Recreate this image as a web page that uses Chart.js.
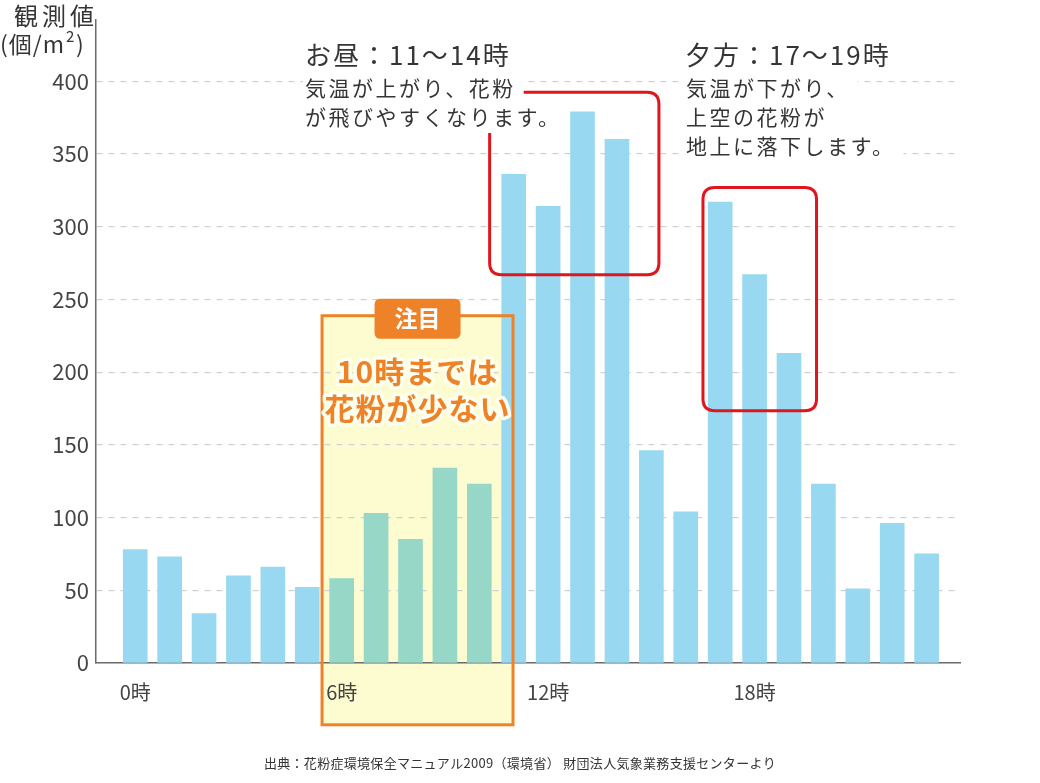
<!DOCTYPE html>
<html>
<head>
<meta charset="utf-8">
<script src="https://cdn.jsdelivr.net/npm/chart.js@4.4.0/dist/chart.umd.min.js"></script>
<style>
html,body{margin:0;padding:0;background:#fff;}
#wrap{width:1040px;height:783px;position:relative;}
</style>
</head>
<body>
<div id="wrap"><canvas id="grafica" width="1040" height="783"></canvas></div>
<script>
// datos
const hours=[0,1,2,3,4,5,6,7,8,9,10,11,12,13,14,15,16,17,18,19,20,21,22,23];
const pollen=[78,73,34,60,66,52,58,103,85,134,123,336,314,379,360,146,104,317,267,213,123,51,96,75];
const xTickHours=[0,6,12,18];
const yTickValues=[0,50,100,150,200,250,300,350,400];
const focusHours=[6,7,8,9,10];

const FONT='"Noto Sans CJK JP","Noto Sans",sans-serif';
const BLUE='#98d8f1';
const TEAL='#97d7c8';
const ORANGE='#ee8229';
const RED='#e0161e';
const TXT='#353535';

// anotaciones (en unidades de datos)
const focusBox={x0:5.43,x1:10.98,y0:-42.5,y1:238.8};
const redBoxes=[
    {x0:10.3,x1:15.22,y0:267,y1:392.5},
    {x0:16.5,x1:19.8,y0:173.5,y1:327}
];

function roundRect(ctx,x,y,w,h,r){
    ctx.beginPath();
    ctx.moveTo(x+r,y);
    ctx.lineTo(x+w-r,y);
    ctx.quadraticCurveTo(x+w,y,x+w,y+r);
    ctx.lineTo(x+w,y+h-r);
    ctx.quadraticCurveTo(x+w,y+h,x+w-r,y+h);
    ctx.lineTo(x+r,y+h);
    ctx.quadraticCurveTo(x,y+h,x,y+h-r);
    ctx.lineTo(x,y+r);
    ctx.quadraticCurveTo(x,y,x+r,y);
    ctx.closePath();
}

function boxPx(chart,b){
    const xs=chart.scales.x, ys=chart.scales.y;
    const l=xs.getPixelForValue(b.x0), r=xs.getPixelForValue(b.x1);
    const t=ys.getPixelForValue(b.y1), bt=ys.getPixelForValue(b.y0);
    return {l,t,w:r-l,h:bt-t};
}

function textLines(ctx,lines,x,y0,gap,font,sp){
    ctx.font=font;
    ctx.letterSpacing=sp;
    ctx.textAlign='left';
    ctx.textBaseline='middle';
    lines.forEach((s,i)=>{
        const y=y0+i*gap;
        const w=ctx.measureText(s).width;
        ctx.fillStyle='#fff';
        ctx.fillRect(x-2,y-16,w+10,32);
    });
    ctx.fillStyle=TXT;
    lines.forEach((s,i)=>{
        ctx.fillText(s,x,y0+i*gap);
    });
    ctx.letterSpacing='0px';
}

const decor={
    id:'decor',
    beforeDraw(chart){
        const ctx=chart.ctx;
        ctx.save();
        ctx.fillStyle='#fff';
        ctx.fillRect(0,0,chart.width,chart.height);
        const p=boxPx(chart,focusBox);
        ctx.fillStyle='#fdfbd0';
        ctx.fillRect(p.l,p.t,p.w,p.h);
        ctx.restore();
    },
    afterDraw(chart){
        const ctx=chart.ctx;
        ctx.save();

        // caja naranja
        const p=boxPx(chart,focusBox);
        ctx.strokeStyle=ORANGE;
        ctx.lineWidth=3;
        ctx.strokeRect(p.l,p.t,p.w,p.h);

        // etiqueta 注目
        const cx=p.l+p.w/2;
        ctx.fillStyle=ORANGE;
        roundRect(ctx,cx-43,p.t-17,86,40,6);
        ctx.fill();
        ctx.fillStyle='#fff';
        ctx.font='bold 23px '+FONT;
        ctx.textAlign='center';
        ctx.textBaseline='middle';
        ctx.fillText('注目',cx,p.t+3);

        ctx.font='bold 30px '+FONT;
        ctx.letterSpacing='1px';
        ctx.lineJoin='round';
        ['10時までは','花粉が少ない'].forEach((s,i)=>{
            const y=p.t+56+i*37;
            ctx.strokeStyle='rgba(255,255,240,0.95)';
            ctx.lineWidth=7;
            ctx.strokeText(s,cx,y);
            ctx.fillStyle=ORANGE;
            ctx.fillText(s,cx,y);
        });
        ctx.letterSpacing='0px';

        // cajas rojas
        ctx.strokeStyle=RED;
        ctx.lineWidth=3;
        redBoxes.forEach(b=>{
            const q=boxPx(chart,b);
            roundRect(ctx,q.l,q.t,q.w,q.h,12);
            ctx.stroke();
        });

        // textos
        ctx.fillStyle=TXT;
        ctx.font='26px '+FONT;
        ctx.letterSpacing='2px';
        ctx.textAlign='left';
        ctx.textBaseline='middle';
        ctx.fillText('お昼：11〜14時',305,55);
        ctx.fillText('夕方：17〜19時',685,55);
        ctx.letterSpacing='0px';
        textLines(ctx,['気温が上がり、花粉','が飛びやすくなります。'],305,88,29,'21px '+FONT,'2.5px');
        textLines(ctx,['気温が下がり、','上空の花粉が','地上に落下します。'],686,88,29,'21px '+FONT,'2.5px');

        // titulo eje y
        ctx.fillStyle=TXT;
        ctx.font='24px '+FONT;
        ctx.letterSpacing='4px';
        ctx.fillText('観測値',14,16);
        ctx.letterSpacing='1px';
        ctx.font='23px '+FONT;
        ctx.fillText('(個/m',0,44);
        const w=ctx.measureText('(個/m').width;
        ctx.font='15px '+FONT;
        ctx.fillText('2',w+1,36);
        ctx.font='23px '+FONT;
        ctx.fillText(')',w+11,44);
        ctx.letterSpacing='0px';

        // fuente
        ctx.font='13px '+FONT;
        ctx.letterSpacing='0.3px';
        ctx.textAlign='center';
        ctx.fillText('出典：花粉症環境保全マニュアル2009（環境省） 財団法人気象業務支援センターより',520,763);
        ctx.restore();
    }
};

window.onload=function(){
    const ctx=document.getElementById('grafica');
    new Chart(ctx,{
        type:'bar',
        data:{
            datasets:[{
                data:hours.map((h,i)=>({x:h,y:pollen[i]})),
                backgroundColor:hours.map(h=>focusHours.includes(h)?TEAL:BLUE),
                barThickness:24
            }]
        },
        options:{
            responsive:false,
            animation:false,
            devicePixelRatio:1,
            layout:{padding:{top:18,right:80,left:0,bottom:0}},
            plugins:{legend:{display:false},tooltip:{enabled:false}},
            scales:{
                x:{
                    type:'linear',
                    min:-1.14,
                    max:23.97,
                    offset:false,
                    afterFit(s){s.height=120;},
                    afterBuildTicks(s){s.ticks=xTickHours.map(v=>({value:v}));},
                    grid:{display:false,drawTicks:false},
                    border:{display:true,color:'#6b6b6b',width:1.5},
                    ticks:{
                        callback:v=>v+'時',
                        color:'#444',
                        font:{family:FONT,size:20},
                        padding:17,
                        maxRotation:0,
                        autoSkip:false
                    }
                },
                y:{
                    min:0,
                    max:442,
                    afterFit(s){s.width=96;},
                    afterBuildTicks(s){s.ticks=yTickValues.map(v=>({value:v}));},
                    grid:{color:'#cfcfcf',lineWidth:1.2,drawTicks:false},
                    border:{display:true,color:'#6b6b6b',width:1.5,dash:[6,6]},
                    ticks:{
                        color:'#444',
                        font:{family:FONT,size:22},
                        padding:7
                    }
                }
            }
        },
        plugins:[decor]
    });
};
</script>
</body>
</html>
